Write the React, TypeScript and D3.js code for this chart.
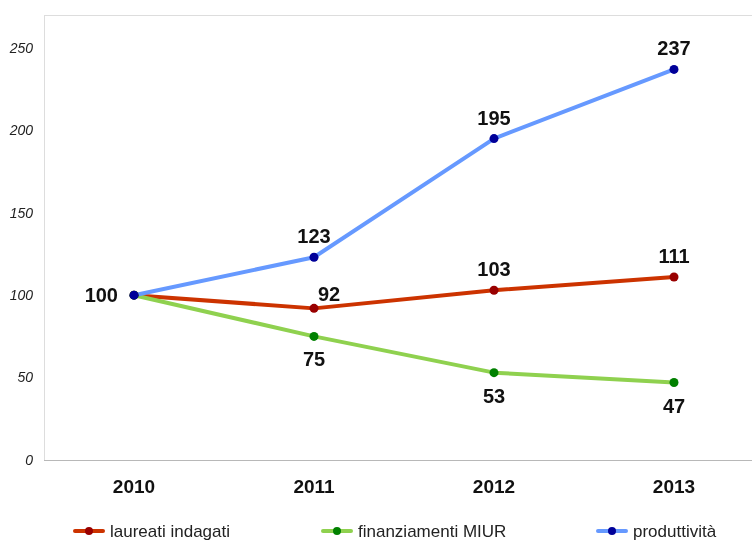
import { useRef, useEffect } from "react";
import * as d3 from "d3";

const years = ["2010", "2011", "2012", "2013"];
const laureati = [100, 92, 103, 111];
const finanziamenti = [100, 75, 53, 47];
const produttivita = [100, 123, 195, 237];
const yTicks = [0, 50, 100, 150, 200, 250];

const SANS = "'Liberation Sans', Arial, Helvetica, sans-serif";

export default function App() {
  const chartRef = useRef<HTMLDivElement>(null);

  useEffect(() => {
    if (!chartRef.current) return;
    d3.select(chartRef.current).selectAll("*").remove();

    const width = 752;
    const height = 542;
    const margin = { top: 15, left: 44, bottom: 460, right: 764 };

    const svg = d3
      .select(chartRef.current)
      .append("svg")
      .attr("width", width)
      .attr("height", height)
      .style("display", "block");

    const x = d3.scaleBand<string>().domain(years).range([margin.left, margin.right]);
    const xc = (y: string) => (x(y) ?? 0) + x.bandwidth() / 2;
    const yScale = d3.scaleLinear().domain([0, 270]).range([margin.bottom, margin.top]);

    // plot frame
    svg
      .append("rect")
      .attr("x", margin.left + 0.5)
      .attr("y", margin.top + 0.5)
      .attr("width", margin.right - margin.left)
      .attr("height", margin.bottom - margin.top)
      .attr("fill", "none")
      .attr("stroke", "#dddddd");
    svg
      .append("line")
      .attr("x1", margin.left)
      .attr("x2", width)
      .attr("y1", margin.bottom + 0.5)
      .attr("y2", margin.bottom + 0.5)
      .attr("stroke", "#b8b8b8");

    // y tick labels
    svg
      .selectAll("text.ytick")
      .data(yTicks)
      .enter()
      .append("text")
      .attr("class", "ytick")
      .attr("x", 33)
      .attr("y", (d) => yScale(d))
      .attr("dy", "0.35em")
      .attr("text-anchor", "end")
      .attr("font-family", SANS)
      .attr("font-size", "14px")
      .attr("font-style", "italic")
      .attr("fill", "#222")
      .text((d) => d);

    // x labels
    svg
      .selectAll("text.xtick")
      .data(years)
      .enter()
      .append("text")
      .attr("class", "xtick")
      .attr("x", (d) => xc(d))
      .attr("y", 486)
      .attr("dy", "0.35em")
      .attr("text-anchor", "middle")
      .attr("font-family", SANS)
      .attr("font-size", "19px")
      .attr("font-weight", "bold")
      .attr("fill", "#111")
      .text((d) => d);

    const series = [
      { name: "laureati indagati", values: laureati, line: "#cc3300", dot: "#990000", pos: ["left", "right", "above", "above"] },
      { name: "finanziamenti MIUR", values: finanziamenti, line: "#8fd14f", dot: "#008000", pos: ["left", "below", "below", "below"] },
      { name: "produttività", values: produttivita, line: "#6699ff", dot: "#000099", pos: ["left", "above", "above", "above"] },
    ];

    const line = d3
      .line<number>()
      .x((_, i) => xc(years[i]))
      .y((d) => yScale(d));

    series.forEach((s) => {
      svg
        .append("path")
        .datum(s.values)
        .attr("d", line)
        .attr("fill", "none")
        .attr("stroke", s.line)
        .attr("stroke-width", 4)
        .attr("stroke-linejoin", "round");
    });

    series.forEach((s) => {
      svg
        .selectAll(null)
        .data(s.values)
        .enter()
        .append("circle")
        .attr("cx", (_, i) => xc(years[i]))
        .attr("cy", (d) => yScale(d))
        .attr("r", 4.5)
        .attr("fill", s.dot);
    });

    // data labels (2010 label drawn once)
    series.forEach((s, si) => {
      s.values.forEach((v, i) => {
        if (i === 0 && si > 0) return;
        const p = s.pos[i];
        let dx = 0;
        let dy = 0;
        let anchor = "middle";
        if (p === "left") { dx = -16; anchor = "end"; }
        if (p === "right") { dx = 4; dy = -14; anchor = "start"; }
        if (p === "above") dy = -21;
        if (p === "below") dy = 23;
        svg
          .append("text")
          .attr("x", xc(years[i]) + dx)
          .attr("y", yScale(v) + dy)
          .attr("dy", "0.35em")
          .attr("text-anchor", anchor)
          .attr("font-family", SANS)
          .attr("font-size", "20px")
          .attr("font-weight", "bold")
          .attr("fill", "#111")
          .text(v);
      });
    });

    // legend
    const legendX = [74, 322, 597];
    series.forEach((s, i) => {
      const g = svg.append("g").attr("transform", `translate(${legendX[i]},531)`);
      g.append("line")
        .attr("x1", 1)
        .attr("x2", 29)
        .attr("y1", 0)
        .attr("y2", 0)
        .attr("stroke", s.line)
        .attr("stroke-width", 4)
        .attr("stroke-linecap", "round");
      g.append("circle").attr("cx", 15).attr("cy", 0).attr("r", 4).attr("fill", s.dot);
      g.append("text")
        .attr("x", 36)
        .attr("y", 0)
        .attr("dy", "0.35em")
        .attr("font-family", SANS)
        .attr("font-size", "17px")
        .attr("fill", "#222")
        .text(s.name);
    });
  }, []);

  return (
    <div style={{ position: "fixed", top: 0, left: 0 }}>
      <div ref={chartRef}></div>
    </div>
  );
}
